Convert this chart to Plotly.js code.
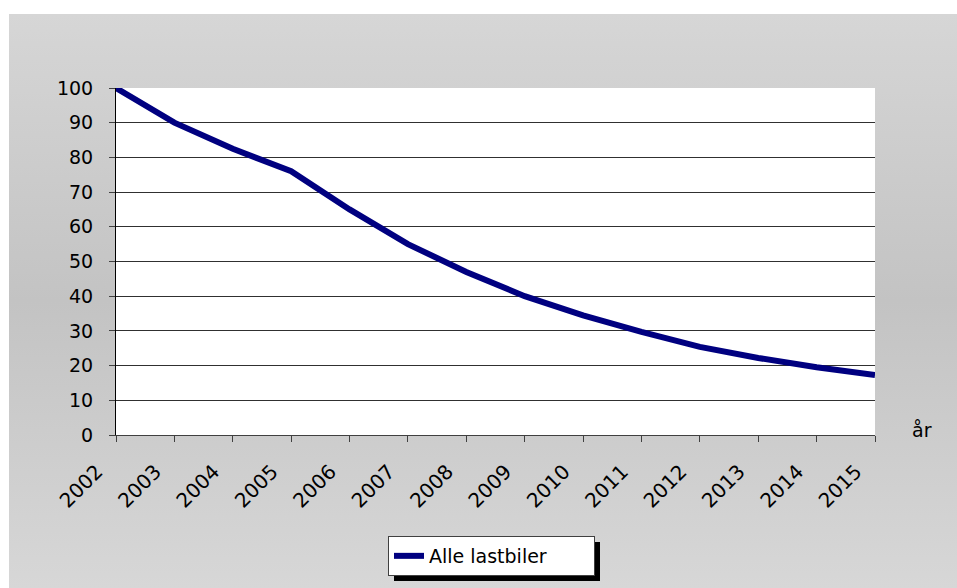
<!DOCTYPE html>
<html>
<head>
<meta charset="utf-8">
<script src="https://cdn.plot.ly/plotly-3.0.1.min.js"></script>
<style>
  html, body { margin: 0; padding: 0; background: #ffffff; }
  #wrap { position: relative; width: 957px; height: 588px; overflow: hidden; }
  #bg { position: absolute; left: 9px; top: 14px; width: 948px; height: 574px;
        background: linear-gradient(to bottom, #d6d6d6 0%, #c3c3c3 50%, #d7d7d7 100%); z-index: 0; }
  #shadow { position: absolute; background: #000; z-index: 1; display: none; }
  #chart { position: absolute; left: 0; top: 0; width: 957px; height: 588px; z-index: 2; }
</style>
</head>
<body>
<div id="wrap">
  <div id="bg"></div>
  <div id="shadow"></div>
  <div id="chart"></div>
</div>
<script>
const years = ["2002","2003","2004","2005","2006","2007","2008","2009","2010","2011","2012","2013","2014","2015"];
const alleLastbiler = [100, 90, 82.5, 76, 65, 55, 47, 40, 34.5, 29.7, 25.4, 22.2, 19.5, 17.3];
const seriesName = "Alle lastbiler";
const xAxisLabel = "år";
const yTicks = [0, 10, 20, 30, 40, 50, 60, 70, 80, 90, 100];

const FONT = "DejaVu Sans, Verdana, sans-serif";

const trace = {
  x: years,
  y: alleLastbiler,
  type: "scatter",
  mode: "lines",
  name: seriesName,
  line: { color: "#000080", width: 6 },
  showlegend: true
};

const layout = {
  width: 957,
  height: 588,
  margin: { l: 116, r: 82, t: 88, b: 153 },
  paper_bgcolor: "rgba(0,0,0,0)",
  plot_bgcolor: "#ffffff",
  font: { family: FONT, size: 19, color: "#000000" },
  xaxis: {
    type: "category",
    range: [0, years.length - 1],
    tickangle: -45,
    ticks: "outside",
    ticklen: 6,
    tickcolor: "#404040",
    ticklabelstandoff: 10,
    ticklabelshift: -19,
    showline: true,
    linecolor: "#404040",
    linewidth: 1,
    showgrid: false,
    zeroline: false,
    tickfont: { family: FONT, size: 20, color: "#000" },
    fixedrange: true
  },
  yaxis: {
    range: [0, 100],
    tickvals: yTicks,
    ticks: "outside",
    ticklen: 6,
    tickcolor: "#404040",
    ticklabelstandoff: 12,
    showline: true,
    linecolor: "#000000",
    linewidth: 1,
    showgrid: true,
    gridcolor: "#303030",
    gridwidth: 1,
    zeroline: false,
    tickfont: { family: FONT, size: 19, color: "#000" },
    fixedrange: true
  },
  legend: {
    orientation: "h",
    x: (388 - 116) / 759,
    xanchor: "left",
    y: (435 - 536) / 347,
    yanchor: "top",
    bgcolor: "#ffffff",
    bordercolor: "#404040",
    borderwidth: 1,
    font: { family: FONT, size: 19, color: "#000" },
    entrywidth: 160,
    entrywidthmode: "pixels"
  },
  annotations: [{
    text: xAxisLabel,
    xref: "paper", yref: "paper",
    x: (922 - 116) / 759, y: (435 - 430) / 347,
    xanchor: "center", yanchor: "middle",
    showarrow: false,
    font: { family: FONT, size: 19, color: "#000" }
  }]
};

Plotly.newPlot("chart", [trace], layout, { displayModeBar: false, staticPlot: true }).then(function () {
  const bg = document.querySelector("#chart .legend rect.bg");
  if (bg) {
    const r = bg.getBoundingClientRect();
    const w = document.getElementById("wrap").getBoundingClientRect();
    const s = document.getElementById("shadow");
    s.style.left = (r.left - w.left + 5) + "px";
    s.style.top = (r.top - w.top + 5) + "px";
    s.style.width = r.width + "px";
    s.style.height = r.height + "px";
    s.style.display = "block";
  }
});
</script>
</body>
</html>
